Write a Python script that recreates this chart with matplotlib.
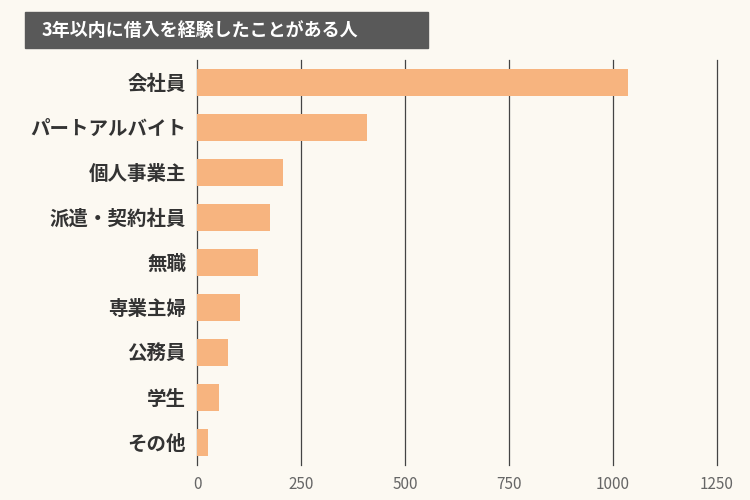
import matplotlib.pyplot as plt

categories = ["会社員", "パートアルバイト", "個人事業主", "派遣・契約社員", "無職",
              "専業主婦", "公務員", "学生", "その他"]
values = [1036, 409, 207, 175, 147, 103, 75, 53, 26]
ticks = [0, 250, 500, 750, 1000, 1250]

plt.rcParams["font.family"] = "Noto Sans CJK JP"
bg = "#fcf9f2"
fig = plt.figure(figsize=(7.5, 5), dpi=100, facecolor=bg)
ax = fig.add_axes([0.263, 0.07, 0.693, 0.81], facecolor=bg)

y = range(len(categories))
ax.barh(y, values, height=0.6, color="#f7b47f", zorder=3)
ax.set_ylim(len(categories) - 0.5, -0.5)
ax.set_xlim(0, 1250)
ax.set_xticks(ticks)
ax.set_xticklabels([str(t) for t in ticks], color="#666666", fontsize=11)
ax.set_yticks(list(y))
ax.set_yticklabels(categories, fontsize=14, fontweight="bold", color="#333333")
ax.tick_params(length=0, pad=8)
for t in ticks:
    ax.axvline(t, color="#444444", lw=0.9, zorder=1, clip_on=False)
for s in ax.spines.values():
    s.set_visible(False)

fig.patches.append(plt.Rectangle((25 / 750, 1 - 48 / 500), 403 / 750, 36 / 500,
                                 transform=fig.transFigure, color="#595959"))
fig.text(42 / 750, 1 - 30 / 500, "3年以内に借入を経験したことがある人", color="white",
         fontsize=13, fontweight="bold", va="center", ha="left")

fig.savefig("out.png", facecolor=bg)
